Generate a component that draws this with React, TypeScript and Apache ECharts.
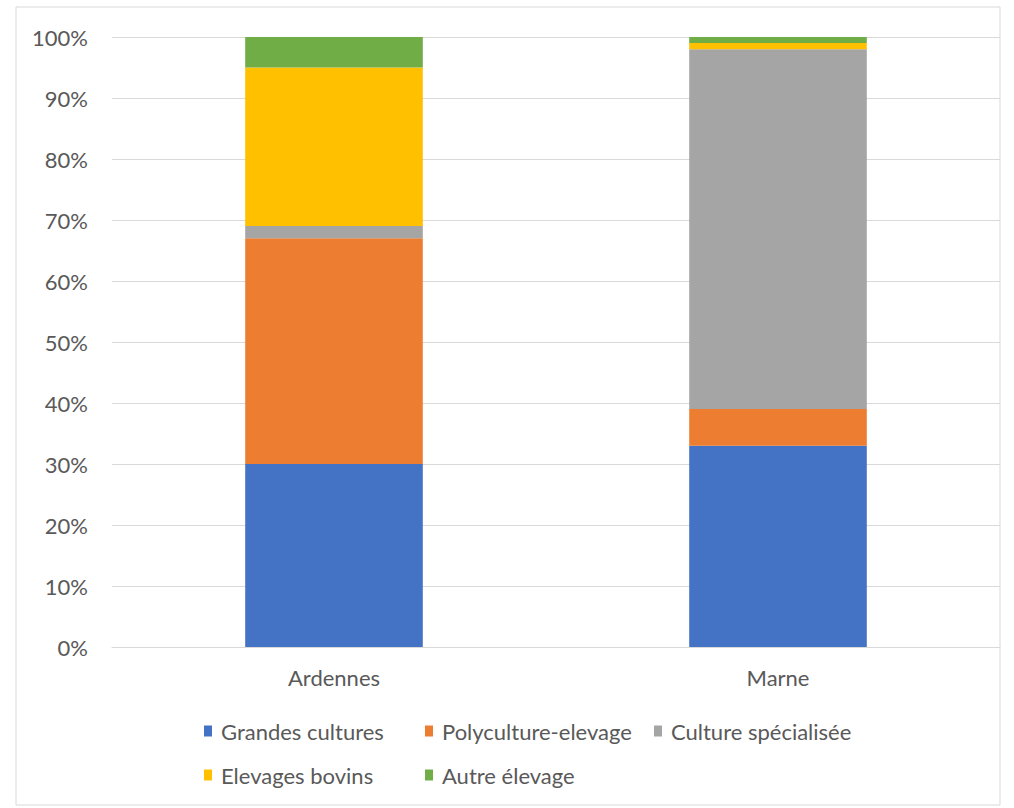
import React, { useEffect, useRef } from "react";
import * as echarts from "echarts";

const categories = ["Ardennes", "Marne"];
const seriesNames = [
  "Grandes cultures",
  "Polyculture-elevage",
  "Culture spécialisée",
  "Elevages bovins",
  "Autre élevage",
];
const grandesCultures = [30, 33];
const polycultureElevage = [37, 6];
const cultureSpecialisee = [2, 59];
const elevagesBovins = [26, 1];
const autreElevage = [5, 1];
const colors = ["#4472C4", "#ED7D31", "#A5A5A5", "#FFC000", "#70AD47"];

const FONT = "Lato";
const TXT = "#595959";

export default function App() {
  const ref = useRef<HTMLDivElement>(null);
  useEffect(() => {
    if (!ref.current) return;
    const chart = echarts.init(ref.current, undefined, { renderer: "svg" });
    const values = [grandesCultures, polycultureElevage, cultureSpecialisee, elevagesBovins, autreElevage];
    const legendPos = [
      { left: 204, top: 720 },
      { left: 425, top: 720 },
      { left: 654, top: 720 },
      { left: 204, top: 764 },
      { left: 425, top: 764 },
    ];
    chart.setOption({
      animation: false,
      backgroundColor: "#ffffff",
      color: colors,
      textStyle: { fontFamily: FONT },
      grid: { left: 112, right: 14, top: 37, bottom: 161 },
      legend: seriesNames.map((n, i) => ({
        data: [n],
        left: legendPos[i].left,
        top: legendPos[i].top,
        icon: "rect",
        itemWidth: 8,
        itemHeight: 11,
        itemGap: 0,
        padding: 0,
        textStyle: { color: TXT, fontSize: 22, fontFamily: FONT, padding: [0, 0, 0, 4] },
      })),
      xAxis: {
        type: "category",
        data: categories,
        axisLine: { show: true, lineStyle: { color: "#d9d9d9" } },
        axisTick: { show: false },
        axisLabel: { color: TXT, fontSize: 22, fontFamily: FONT, margin: 19 },
      },
      yAxis: {
        type: "value",
        min: 0,
        max: 100,
        interval: 10,
        axisLine: { show: false },
        axisTick: { show: false },
        splitLine: { lineStyle: { color: "#d9d9d9" } },
        axisLabel: { color: TXT, fontSize: 22, fontFamily: FONT, margin: 24, formatter: "{value}%" },
      },
      series: seriesNames.map((n, i) => ({
        name: n,
        type: "bar",
        stack: "total",
        barWidth: "40%",
        data: values[i],
        itemStyle: { color: colors[i] },
      })),
      graphic: [
        {
          type: "rect",
          shape: { x: 16, y: 7, width: 984, height: 798 },
          style: { fill: "none", stroke: "#d9d9d9", lineWidth: 1 },
          silent: true,
        },
      ],
    });
    return () => chart.dispose();
  }, []);
  return (
    <div
      ref={ref}
      style={{ position: "absolute", left: 0, top: 0, width: 1014, height: 808 }}
    />
  );
}
